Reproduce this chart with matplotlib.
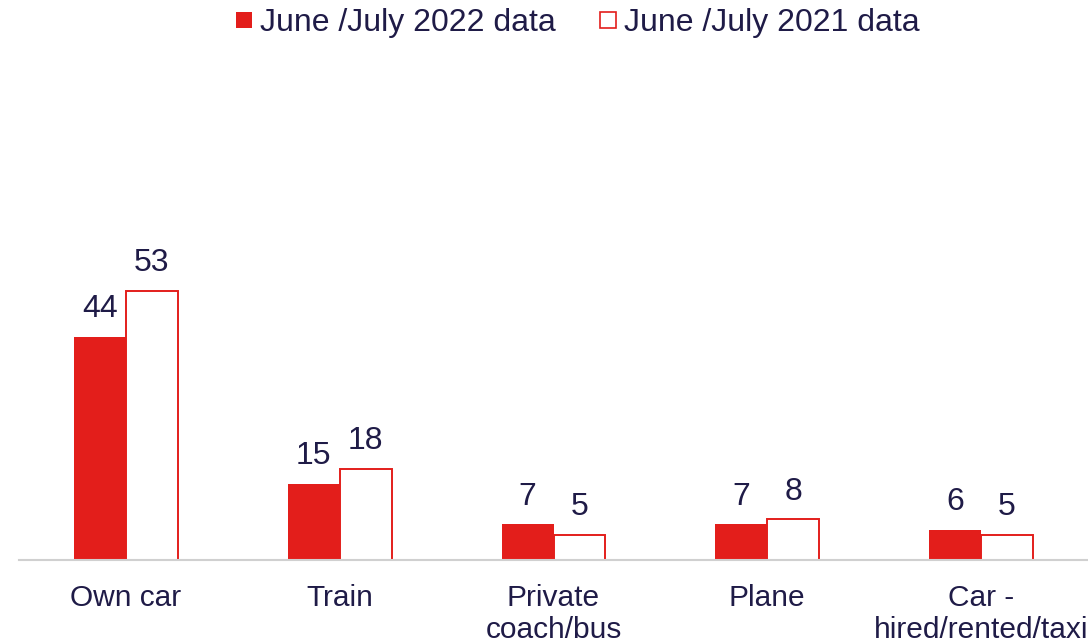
import numpy as np
import matplotlib.pyplot as plt
from matplotlib.patches import Patch

plt.rcParams['font.family'] = ['Liberation Sans', 'DejaVu Sans']

# Datos del grafico
categorias = ['Own car', 'Train', 'Private\ncoach/bus', 'Plane', 'Car -\nhired/rented/taxi']
datos_2022 = [44, 15, 7, 7, 6]
datos_2021 = [53, 18, 5, 8, 5]
serie_2022 = 'June /July 2022 data'
serie_2021 = 'June /July 2021 data'

rojo = '#e31e1b'
texto = '#1f1b47'

fig = plt.figure(figsize=(10.88, 6.41), dpi=100)
ax = fig.add_axes([19 / 1088, 81 / 641, 1069 / 1088, 500 / 641])

x = np.arange(len(categorias))
ancho = 0.243
b1 = ax.bar(x - ancho / 2, datos_2022, ancho, color=rojo, edgecolor=rojo, linewidth=0)
b2 = ax.bar(x + ancho / 2, datos_2021, ancho, color='white', edgecolor=rojo, linewidth=1.4)

for barras in (b1, b2):
    for b in barras:
        ax.annotate(str(int(b.get_height())), (b.get_x() + b.get_width() / 2, b.get_height()),
                    xytext=(0, 9), textcoords='offset points', ha='center', va='bottom',
                    fontsize=23, color=texto)

ax.set_xlim(-0.5, len(categorias) - 0.5)
ax.set_ylim(0, 98.5)
ax.set_xticks(x)
ax.set_xticklabels(categorias, fontsize=21.5, color=texto, linespacing=1.2)
ax.tick_params(axis='x', length=0, pad=17)
ax.set_yticks([])
for lado in ['top', 'right', 'left']:
    ax.spines[lado].set_visible(False)
ax.spines['bottom'].set_color('#d0d0d0')
ax.spines['bottom'].set_linewidth(1.5)

manijas = [Patch(facecolor=rojo, edgecolor=rojo, linewidth=0),
           Patch(facecolor='white', edgecolor=rojo, linewidth=1.2)]
fig.legend(manijas, [serie_2022, serie_2021], loc='center', bbox_to_anchor=(578 / 1088, 1 - 23 / 641),
           ncol=2, frameon=False, fontsize=23, handlelength=0.5, handleheight=0.39,
           handletextpad=0.25, columnspacing=1.4, labelcolor=texto)

fig.savefig('out.png', dpi=100)
